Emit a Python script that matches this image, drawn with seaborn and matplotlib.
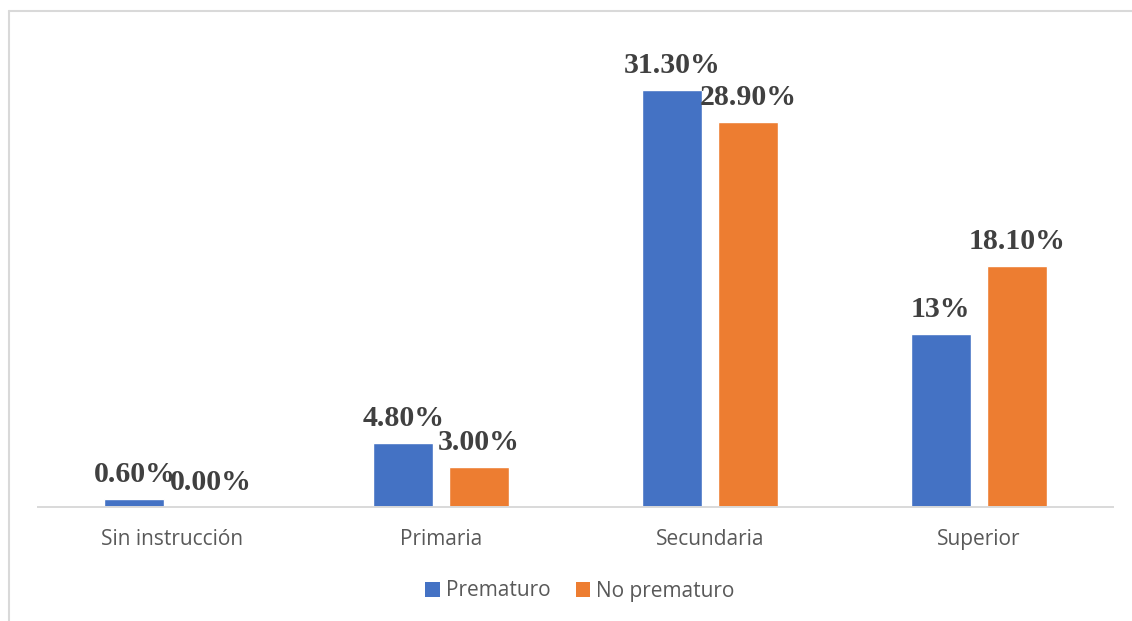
import matplotlib
matplotlib.use("Agg")
import matplotlib.pyplot as plt
from matplotlib.lines import Line2D
from matplotlib.patches import Patch
import seaborn as sns
import pandas as pd
import numpy as np

# datos del grafico
categorias = ["Sin instrucción", "Primaria", "Secundaria", "Superior"]
grupos = ["Prematuro", "No prematuro"]
prematuro = [0.6, 4.8, 31.3, 13.0]
no_prematuro = [0.0, 3.0, 28.9, 18.1]
etiquetas_prematuro = ["0.60%", "4.80%", "31.30%", "13%"]
etiquetas_no_prematuro = ["0.00%", "3.00%", "28.90%", "18.10%"]

colores = ["#4472C4", "#ED7D31"]
gris_texto = "#595959"
gris_linea = "#D9D9D9"

df = pd.DataFrame({
    "nivel": categorias * 2,
    "grupo": [grupos[0]] * 4 + [grupos[1]] * 4,
    "valor": prematuro + no_prematuro,
})

sns.set_style("white")
plt.rcParams["font.family"] = ["Open Sans", "DejaVu Sans"]

W, H = 1132, 621
fig = plt.figure(figsize=(W / 100, H / 100), dpi=100)
ax = fig.add_axes([38 / W, (H - 507) / H, 1075 / W, 466 / H])

sns.barplot(data=df, x="nivel", y="valor", hue="grupo", order=categorias,
            hue_order=grupos, palette=colores, width=0.565, gap=0.21,
            saturation=1, legend=False, ax=ax)

ax.set_xlim(-0.5, 3.5)
ax.set_ylim(0, 35)
ax.set_xlabel("")
ax.set_ylabel("")
ax.set_yticks([])

# etiquetas de valores encima de cada barra
for cont, etiquetas in zip(ax.containers, [etiquetas_prematuro, etiquetas_no_prematuro]):
    for barra, txt in zip(cont, etiquetas):
        x = barra.get_x() + barra.get_width() / 2
        ax.annotate(txt, (x, barra.get_height()), xytext=(0, 12.5),
                    textcoords="offset points", ha="center", va="baseline",
                    fontsize=21.5, fontweight="bold", color="#404040",
                    family=["Liberation Serif", "DejaVu Serif"])

for lado in ["left", "top", "right"]:
    ax.spines[lado].set_visible(False)
ax.spines["bottom"].set_color(gris_linea)
ax.spines["bottom"].set_linewidth(1.4)

ax.set_xticks(np.arange(-0.5, 4, 1), minor=True)
ax.tick_params(axis="x", which="major", length=0, pad=16, labelsize=15, labelcolor=gris_texto)
ax.tick_params(axis="x", which="minor", length=7, width=1.4, color=gris_linea)

# leyenda abajo
handles = [Patch(facecolor=c, edgecolor="none") for c in colores]
fig.legend(handles, grupos, loc="center", bbox_to_anchor=(580 / W, 1 - 591 / H),
           ncol=2, frameon=False, fontsize=15, labelcolor=gris_texto,
           handlelength=0.7, handleheight=0.7, handletextpad=0.3, columnspacing=1.2)

# marco del grafico (recortado a la derecha y abajo)
fig.add_artist(Line2D([8.5 / W, 1], [1 - 11 / H, 1 - 11 / H], color=gris_linea, lw=1.5))
fig.add_artist(Line2D([8.5 / W, 8.5 / W], [0, 1 - 11 / H], color=gris_linea, lw=1.5))

fig.savefig("out.png", dpi=100, facecolor="white")
